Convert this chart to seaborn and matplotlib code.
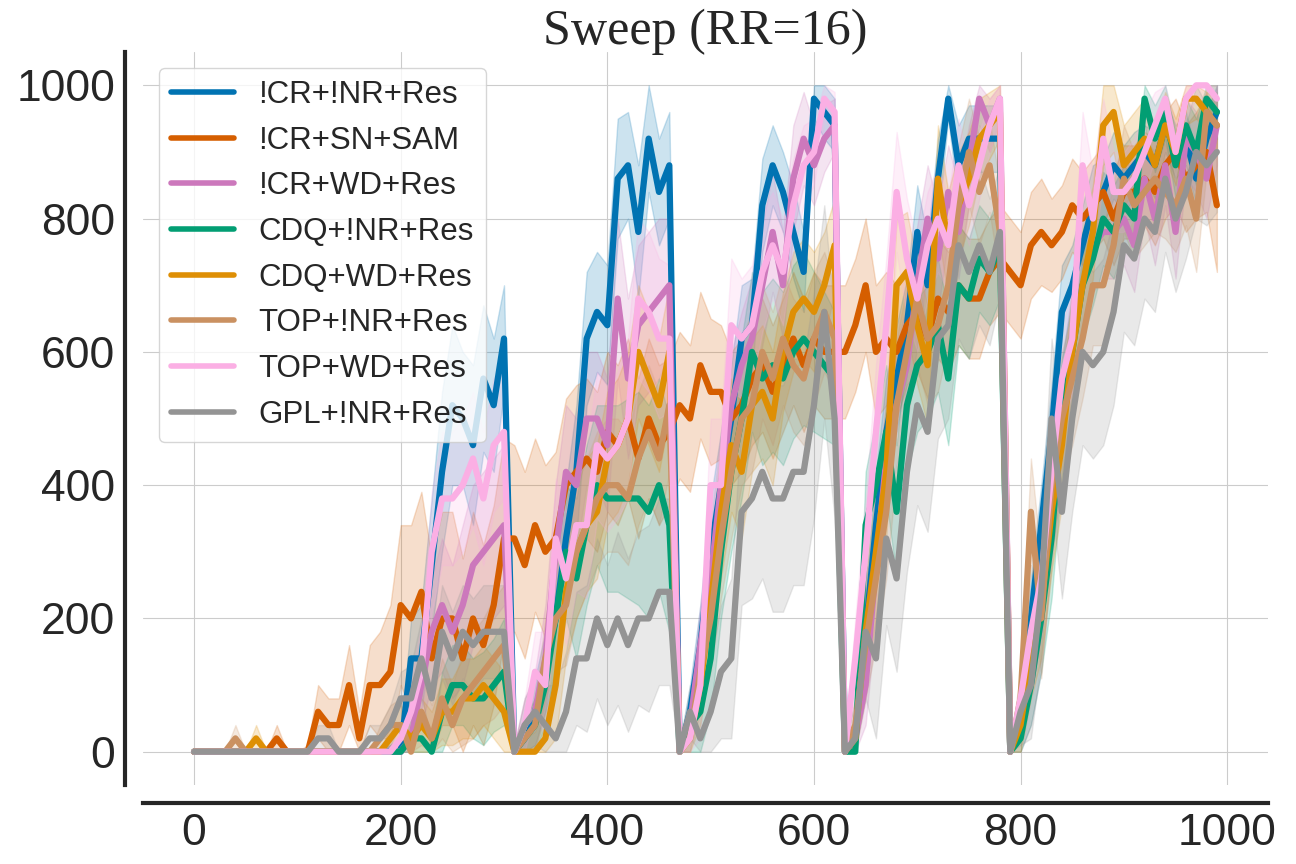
import pandas as pd
import seaborn as sns
import matplotlib.pyplot as plt

STEPS = list(range(0, 1000, 10))
METHODS = ["!CR+!NR+Res", "!CR+SN+SAM", "!CR+WD+Res", "CDQ+!NR+Res",
           "CDQ+WD+Res", "TOP+!NR+Res", "TOP+WD+Res", "GPL+!NR+Res"]
COLORS = ["#0173b2", "#d55e00", "#cc78bc", "#029e73",
          "#de8f05", "#ca9161", "#fbafe4", "#949494"]

# mean return per method
cr_nr_res = [0, 0, 0, 0, 0, 0, 0, 0, 0, 0,
             0, 0, 0, 0, 0, 0, 0, 0, 0, 0,
             0, 140, 140, 280, 420, 520, 500, 460, 560, 520,
             620, 0, 20, 60, 120, 200, 320, 420, 620, 660,
             640, 860, 880, 780, 920, 840, 880, 0, 60, 160,
             300, 400, 500, 620, 640, 820, 880, 840, 780, 720,
             980, 960, 940, 0, 20, 180, 340, 480, 560, 640,
             780, 700, 860, 980, 880, 920, 920, 920, 920, 0,
             60, 200, 340, 480, 660, 700, 760, 820, 840, 880,
             860, 880, 900, 880, 940, 900, 920, 860, 920, 960]
cr_sn_sam = [0, 0, 0, 0, 0, 0, 0, 0, 20, 0,
             0, 0, 60, 40, 40, 100, 20, 100, 100, 120,
             220, 200, 240, 140, 200, 200, 140, 200, 160, 220,
             320, 320, 280, 340, 300, 320, 400, 420, 440, 420,
             480, 460, 500, 440, 500, 460, 480, 520, 500, 580,
             540, 540, 500, 520, 560, 580, 540, 580, 620, 580,
             620, 600, 600, 600, 640, 700, 600, 620, 600, 640,
             660, 620, 680, 660, 700, 680, 680, 720, 740, 720,
             700, 760, 780, 760, 780, 820, 800, 820, 840, 800,
             840, 840, 860, 840, 880, 900, 860, 880, 900, 820]
cr_wd_res = [0, 0, 0, 0, 0, 0, 0, 0, 0, 0,
             0, 0, 0, 0, 0, 0, 0, 0, 0, 0,
             0, 20, 100, 180, 220, 180, 220, 280, 300, 320,
             340, 0, 40, 60, 140, 300, 420, 400, 500, 500,
             460, 680, 560, 640, 660, 680, 700, 0, 40, 160,
             260, 400, 520, 580, 620, 700, 780, 700, 860, 920,
             880, 920, 940, 0, 20, 100, 280, 440, 520, 580,
             700, 800, 740, 840, 780, 880, 980, 940, 980, 0,
             40, 100, 200, 360, 500, 620, 700, 760, 780, 780,
             800, 760, 860, 800, 880, 780, 920, 900, 860, 940]
cdq_nr_res = [0, 0, 0, 0, 0, 0, 0, 0, 0, 0,
              0, 0, 0, 0, 0, 0, 0, 0, 0, 0,
              0, 20, 20, 0, 60, 100, 100, 80, 80, 100,
              120, 0, 20, 40, 100, 200, 300, 260, 340, 400,
              380, 380, 380, 380, 360, 400, 340, 0, 40, 60,
              140, 300, 420, 500, 600, 560, 580, 560, 600, 620,
              600, 580, 560, 0, 0, 340, 400, 480, 360, 520,
              580, 600, 640, 560, 700, 680, 740, 720, 760, 0,
              20, 100, 200, 320, 500, 600, 700, 740, 800, 780,
              820, 800, 980, 920, 960, 880, 940, 900, 980, 960]
cdq_wd_res = [0, 0, 0, 0, 0, 0, 20, 0, 0, 0,
              0, 0, 0, 0, 0, 0, 0, 0, 0, 20,
              40, 20, 40, 20, 60, 60, 80, 80, 100, 80,
              60, 0, 0, 0, 20, 100, 240, 300, 340, 360,
              440, 460, 500, 600, 560, 520, 600, 0, 20, 100,
              220, 360, 460, 420, 520, 540, 500, 600, 660, 680,
              660, 700, 760, 0, 20, 180, 300, 420, 700, 720,
              640, 580, 860, 760, 820, 860, 920, 940, 960, 0,
              40, 140, 220, 360, 460, 600, 700, 780, 940, 960,
              880, 900, 920, 880, 940, 900, 980, 980, 960, 940]
top_nr_res = [0, 0, 0, 0, 20, 0, 0, 0, 0, 0,
              0, 0, 0, 0, 0, 0, 0, 0, 20, 40,
              40, 0, 60, 20, 80, 40, 80, 100, 120, 140,
              160, 0, 20, 40, 140, 200, 220, 300, 340, 380,
              400, 400, 380, 440, 480, 440, 520, 0, 20, 120,
              200, 320, 420, 500, 520, 600, 560, 620, 580, 560,
              620, 660, 620, 0, 40, 160, 260, 360, 520, 600,
              680, 620, 640, 700, 820, 900, 840, 880, 780, 0,
              80, 360, 200, 400, 500, 560, 620, 700, 700, 760,
              860, 820, 840, 860, 840, 820, 860, 800, 960, 940]
top_wd_res = [0, 0, 0, 0, 0, 0, 0, 0, 0, 0,
              0, 0, 0, 0, 0, 0, 0, 0, 0, 0,
              20, 60, 120, 300, 380, 380, 400, 440, 380, 460,
              480, 0, 40, 120, 100, 320, 260, 340, 340, 460,
              440, 460, 500, 680, 660, 620, 620, 0, 20, 100,
              400, 400, 640, 620, 640, 720, 760, 720, 820, 880,
              900, 980, 960, 0, 140, 300, 480, 640, 840, 740,
              680, 760, 800, 760, 880, 820, 880, 940, 980, 0,
              80, 180, 260, 420, 560, 620, 880, 800, 920, 840,
              840, 860, 900, 940, 980, 900, 980, 1000, 1000, 980]
gpl_nr_res = [0, 0, 0, 0, 0, 0, 0, 0, 0, 0,
              0, 0, 20, 20, 0, 0, 0, 20, 20, 40,
              80, 80, 140, 80, 180, 140, 180, 160, 180, 180,
              180, 0, 40, 60, 40, 20, 60, 140, 140, 200,
              160, 200, 160, 200, 200, 240, 240, 0, 60, 20,
              60, 120, 140, 360, 380, 420, 380, 380, 420, 420,
              520, 660, 500, 0, 20, 180, 140, 320, 260, 420,
              520, 480, 620, 640, 760, 720, 760, 720, 780, 0,
              60, 100, 240, 500, 360, 500, 600, 580, 600, 660,
              760, 740, 800, 780, 860, 800, 840, 900, 880, 900]

# half-width of the shaded band around each curve
cr_nr_res_sd = [0] * 19 + [10,
                20, 60, 80, 100, 120, 120, 100, 120, 110, 100,
                80, 10, 30, 50, 60, 80, 80, 100, 100, 90,
                90, 90, 80, 100, 80, 80, 80, 10, 40, 60,
                80, 80, 80, 80, 70, 70, 60, 60, 70, 60,
                30, 40, 40, 10, 30, 60, 80, 80, 80, 70,
                70, 70, 60, 30, 60, 50, 50, 50, 50, 10,
                40, 60, 60, 70, 70, 60, 60, 60, 50, 50,
                50, 50, 40, 50, 40, 40, 40, 40, 40, 40]
cr_sn_sam_sd = [0, 0, 0, 0, 0, 0, 0, 0, 20, 0,
                0, 10, 40, 40, 40, 60, 40, 60, 80, 100,
                120, 140, 150, 150, 160, 160, 150, 160, 150, 150,
                150, 140, 140, 130, 130, 130, 130, 130, 120, 120,
                120, 120, 120, 120, 120, 120, 110, 110, 110, 110,
                110, 100, 100, 100, 100, 100, 100, 100, 100, 100,
                100, 100, 100, 100, 100, 100, 100, 100, 100, 90,
                90, 90, 90, 90, 90, 90, 90, 80, 80, 80,
                80, 80, 80, 70, 70, 70, 70, 70, 70, 70,
                70, 70, 70, 80, 80, 80, 80, 80, 90, 100]
cr_wd_res_sd = [0] * 19 + [10,
                20, 30, 60, 80, 100, 100, 120, 120, 120, 120,
                120, 10, 40, 60, 80, 100, 100, 100, 100, 100,
                100, 120, 120, 120, 120, 120, 100, 10, 40, 60,
                80, 80, 80, 80, 90, 90, 90, 80, 80, 70,
                60, 50, 40, 10, 30, 60, 80, 90, 90, 90,
                90, 80, 80, 70, 70, 60, 40, 40, 30, 10,
                40, 60, 80, 80, 80, 80, 70, 70, 70, 70,
                70, 70, 60, 70, 60, 70, 60, 60, 60, 60]
cdq_nr_res_sd = [0] * 19 + [10,
                 20, 30, 30, 30, 60, 60, 60, 60, 70, 70,
                 80, 10, 30, 40, 60, 80, 100, 120, 120, 120,
                 140, 140, 150, 160, 160, 160, 160, 10, 40, 60,
                 80, 100, 120, 120, 120, 130, 130, 130, 130, 130,
                 120, 110, 100, 10, 30, 80, 100, 100, 100, 100,
                 100, 100, 100, 100, 90, 90, 80, 80, 80, 10,
                 40, 60, 80, 90, 90, 80, 80, 70, 70, 70,
                 60, 60, 40, 50, 40, 50, 40, 50, 40, 40]
cdq_wd_res_sd = [0, 0, 0, 0, 0, 0, 20, 0, 0, 0,
                 0, 0, 0, 0, 0, 0, 0, 0, 0, 20,
                 30, 30, 40, 40, 50, 50, 60, 60, 60, 60,
                 60, 10, 20, 30, 60, 80, 100, 100, 100, 100,
                 100, 100, 100, 100, 100, 100, 100, 10, 30, 60,
                 80, 100, 100, 100, 100, 100, 100, 90, 90, 90,
                 90, 80, 70, 10, 30, 80, 100, 100, 100, 90,
                 90, 90, 80, 80, 80, 70, 60, 50, 40, 10,
                 40, 60, 80, 90, 90, 90, 80, 70, 60, 60,
                 60, 60, 60, 60, 50, 50, 40, 30, 30, 40]
top_nr_res_sd = [0, 0, 0, 0, 20, 0, 0, 0, 0, 0,
                 0, 0, 0, 0, 0, 0, 0, 0, 20, 30,
                 40, 30, 50, 50, 60, 60, 70, 80, 80, 90,
                 90, 10, 30, 40, 60, 80, 90, 100, 100, 100,
                 100, 100, 100, 100, 100, 100, 100, 10, 40, 60,
                 80, 90, 100, 100, 100, 100, 100, 100, 100, 100,
                 100, 90, 80, 10, 40, 80, 100, 100, 100, 100,
                 100, 100, 100, 90, 90, 80, 80, 70, 70, 10,
                 40, 80, 90, 100, 100, 100, 90, 90, 90, 90,
                 80, 80, 80, 80, 70, 70, 70, 80, 90, 100]
top_wd_res_sd = [0] * 19 + [10,
                 20, 50, 70, 90, 100, 100, 100, 100, 100, 100,
                 100, 10, 40, 60, 80, 90, 100, 100, 110, 110,
                 110, 110, 120, 120, 120, 120, 110, 10, 40, 80,
                 100, 100, 100, 90, 90, 90, 80, 80, 70, 60,
                 50, 30, 30, 10, 60, 80, 100, 100, 90, 90,
                 80, 80, 80, 70, 70, 60, 50, 40, 30, 10,
                 40, 60, 70, 80, 80, 80, 80, 70, 60, 60,
                 60, 60, 60, 50, 40, 40, 30, 20, 20, 30]
gpl_nr_res_sd = [0, 0, 0, 0, 0, 0, 0, 0, 0, 0,
                 0, 0, 20, 20, 0, 0, 0, 20, 20, 30,
                 40, 50, 60, 60, 70, 70, 70, 70, 70, 70,
                 70, 10, 40, 50, 60, 80, 90, 100, 110, 120,
                 120, 130, 130, 130, 140, 140, 140, 10, 40, 60,
                 80, 100, 120, 140, 150, 160, 170, 170, 170, 170,
                 170, 160, 150, 10, 60, 100, 120, 130, 140, 150,
                 150, 150, 150, 140, 140, 130, 120, 110, 100, 10,
                 50, 80, 100, 120, 130, 140, 140, 140, 140, 140,
                 130, 130, 120, 120, 110, 110, 100, 100, 90, 90]

MEANS = [cr_nr_res, cr_sn_sam, cr_wd_res, cdq_nr_res,
         cdq_wd_res, top_nr_res, top_wd_res, gpl_nr_res]
SPREADS = [cr_nr_res_sd, cr_sn_sam_sd, cr_wd_res_sd, cdq_nr_res_sd,
           cdq_wd_res_sd, top_nr_res_sd, top_wd_res_sd, gpl_nr_res_sd]

# long table: low / mid / high per step, median gives the curve, full range gives the band
rows = []
for name, mean, sd in zip(METHODS, MEANS, SPREADS):
    for step, m, s in zip(STEPS, mean, sd):
        rows.append({"method": name, "step": step, "ret": max(m - s, 0)})
        rows.append({"method": name, "step": step, "ret": m})
        rows.append({"method": name, "step": step, "ret": min(m + s, 1000)})
df = pd.DataFrame(rows)

sns.set_style("whitegrid")
plt.rcParams["font.family"] = ["Liberation Sans", "DejaVu Sans"]

fig, ax = plt.subplots(figsize=(12.96, 8.64), dpi=100)
fig.subplots_adjust(left=0.1103, right=0.9784, bottom=0.0914, top=0.9398)

sns.lineplot(data=df, x="step", y="ret", hue="method", hue_order=METHODS,
             palette=COLORS, estimator="median", errorbar=("pi", 100),
             linewidth=4.5, ax=ax)

ax.set_xlim(-49.5, 1039.5)
ax.set_ylim(-50, 1050)
ax.set_xticks([0, 200, 400, 600, 800, 1000])
ax.set_yticks([0, 200, 400, 600, 800, 1000])
ax.tick_params(labelsize=32, colors="#262626")
ax.set_xlabel("")
ax.set_ylabel("")
ax.set_title("Sweep (RR=16)", fontsize=36, family="Liberation Serif", color="#262626")

sns.despine(ax=ax, offset=13)
for side in ["left", "bottom"]:
    ax.spines[side].set_color("#262626")
    ax.spines[side].set_linewidth(3)

leg = ax.legend(loc="upper left", fontsize=22.5, title=None)
for line in leg.get_lines():
    line.set_linewidth(4)

fig.savefig("out.png", dpi=100)
